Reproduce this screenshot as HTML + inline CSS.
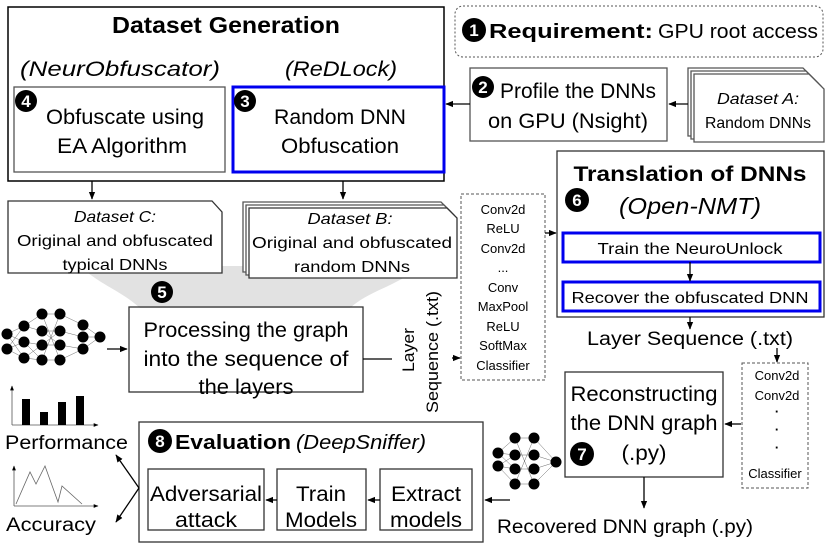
<!DOCTYPE html>
<html><head><meta charset="utf-8"><style>
html,body{margin:0;padding:0;background:#fff}
svg{display:block}
text{font-family:"Liberation Sans",sans-serif;fill:#000}
</style></head><body>
<svg width="831" height="548" viewBox="0 0 831 548" xmlns="http://www.w3.org/2000/svg">
<defs>
<marker id="a" viewBox="0 0 10 10" refX="9" refY="5" markerWidth="6" markerHeight="6" orient="auto"><path d="M0,1 L10,5 L0,9 z" fill="#000"/></marker>
</defs>
<g stroke="#000" fill="none" stroke-width="1.3">
<path d="M80,266 L420,266 C400,285 370,290 350,308 L140,308 C120,290 100,285 80,266 z" fill="#e2e2e2" stroke="none"/>
<rect x="8" y="7" width="436" height="174" stroke-width="1.5"/>
<rect x="14" y="87" width="211" height="85" stroke="#555"/>
<rect x="233" y="87" width="211" height="85" stroke="#0000ee" stroke-width="3"/>
<rect x="455" y="6" width="368" height="51" rx="8" stroke="#555" stroke-dasharray="2,2" stroke-width="1"/>
<rect x="470" y="68" width="197" height="73" stroke="#555"/>
<path d="M688,68 L803,68 L818,83 L818,136 L688,136 z" fill="#fff" stroke="#555"/>
<path d="M691,71 L806,71 L821,86 L821,139 L691,139 z" fill="#fff" stroke="#555"/>
<path d="M694,74 L809,74 L824,89 L824,142 L694,142 z" fill="#fff" stroke="#555"/>
<line x1="688" y1="104" x2="669" y2="104" marker-end="url(#a)"/>
<line x1="470" y1="104" x2="446" y2="104" marker-end="url(#a)"/>
<line x1="92" y1="181" x2="92" y2="199" marker-end="url(#a)"/>
<line x1="343" y1="181" x2="343" y2="199" marker-end="url(#a)"/>
<path d="M8,201 L212,201 L222,212 L222,273 L8,273 z" fill="#fff" stroke="#333"/>
<path d="M243,202 L441,202 L451,212 L451,272 L243,272 z" fill="#fff" stroke="#555"/>
<path d="M246,205 L444,205 L454,215 L454,275 L246,275 z" fill="#fff" stroke="#555"/>
<path d="M249,208 L447,208 L457,218 L457,278 L249,278 z" fill="#fff" stroke="#333"/>
<rect x="129" y="307" width="234" height="85" stroke="#333"/>
<line x1="107" y1="349" x2="127" y2="349" marker-end="url(#a)"/>
<line x1="363" y1="359" x2="392" y2="359"/>
<rect x="461" y="194" width="84" height="186" stroke="#555" stroke-dasharray="3,2" stroke-width="1"/>
<line x1="452" y1="358" x2="460" y2="358" marker-end="url(#a)"/>
<line x1="545" y1="233" x2="556" y2="233" marker-end="url(#a)"/>
<rect x="557" y="151" width="267" height="166" stroke="#333"/>
<rect x="563" y="233" width="257" height="29" stroke="#0000ee" stroke-width="3"/>
<rect x="563" y="282" width="257" height="29" stroke="#0000ee" stroke-width="3"/>
<line x1="690" y1="262" x2="690" y2="281" marker-end="url(#a)"/>
<line x1="690" y1="317" x2="690" y2="329" marker-end="url(#a)"/>
<line x1="777" y1="348" x2="777" y2="362" marker-end="url(#a)"/>
<rect x="742" y="363" width="66" height="125" stroke="#555" stroke-dasharray="3,2" stroke-width="1"/>
<rect x="565" y="372" width="158" height="105" stroke="#333"/>
<line x1="741" y1="424" x2="725" y2="424" marker-end="url(#a)"/>
<line x1="644" y1="477" x2="644" y2="508" marker-end="url(#a)"/>
<line x1="510" y1="500" x2="485" y2="500" marker-end="url(#a)"/>
<rect x="139" y="422" width="344" height="120" stroke="#333"/>
<rect x="148" y="469" width="116" height="61" stroke="#333"/>
<rect x="277" y="469" width="89" height="61" stroke="#333"/>
<rect x="380" y="469" width="92" height="61" stroke="#333"/>
<line x1="380" y1="500" x2="368" y2="500" marker-end="url(#a)"/>
<line x1="277" y1="500" x2="266" y2="500" marker-end="url(#a)"/>
<line x1="139" y1="488" x2="116" y2="455" marker-end="url(#a)"/>
<line x1="139" y1="488" x2="116" y2="522" marker-end="url(#a)"/>
<line x1="12" y1="425" x2="98" y2="425" stroke="#555" stroke-width="0.8" marker-end="url(#a)"/>
<line x1="12" y1="425" x2="12" y2="386" stroke="#555" stroke-width="0.8" marker-end="url(#a)"/>
<line x1="14" y1="506" x2="98" y2="506" stroke="#555" stroke-width="0.8" marker-end="url(#a)"/>
<line x1="14" y1="506" x2="14" y2="466" stroke="#555" stroke-width="0.8" marker-end="url(#a)"/>
<path d="M16,504 L30,472 L36,484 L45,466 L58,502 L62,486 L82,504" stroke="#666" stroke-width="0.8"/>
</g>
<g fill="#000">
<rect x="22" y="399" width="8" height="26"/><rect x="40" y="412" width="8" height="13"/><rect x="58" y="402" width="8" height="23"/><rect x="76" y="396" width="8" height="29"/>
</g>
<g stroke="#444" stroke-width="0.4">
<path d="M7,334 L24,326 M7,334 L24,342 M7,334 L24,358 M7,349 L24,326 M7,349 L24,342 M7,349 L24,358 M24,326 L42,314 M24,326 L42,331 M24,342 L42,345 M24,342 L42,360 M24,358 L42,345 M24,358 L42,360 M42,314 L60,314 M42,331 L60,331 M42,345 L60,345 M42,360 L60,360 M42,314 L60,360 M42,360 L60,314 M60,314 L83,325 M60,331 L83,337 M60,345 L83,349 M60,360 L83,349 M83,325 L100,337 M83,337 L100,337 M83,349 L100,337 M42,331 L60,345 M42,345 L60,331"/>
</g>
<g fill="#000">
<circle cx="7" cy="334" r="5.5"/><circle cx="7" cy="349" r="5.5"/>
<circle cx="24" cy="326" r="5.5"/><circle cx="24" cy="342" r="5.5"/><circle cx="24" cy="358" r="5.5"/>
<circle cx="42" cy="314" r="5.5"/><circle cx="42" cy="331" r="5.5"/><circle cx="42" cy="345" r="5.5"/><circle cx="42" cy="360" r="5.5"/>
<circle cx="60" cy="314" r="5.5"/><circle cx="60" cy="331" r="5.5"/><circle cx="60" cy="345" r="5.5"/><circle cx="60" cy="360" r="5.5"/>
<circle cx="83" cy="325" r="5.5"/><circle cx="83" cy="337" r="5.5"/><circle cx="83" cy="349" r="5.5"/>
<circle cx="100" cy="337" r="5.5"/>
</g>
<g stroke="#444" stroke-width="0.4">
<path d="M498,453 L515,438 M498,453 L515,455 M498,453 L515,469 M498,466 L515,455 M498,466 L515,469 M498,466 L515,484 M515,438 L534,438 M515,455 L534,455 M515,469 L534,469 M515,484 L534,484 M515,438 L534,484 M515,484 L534,438 M534,438 L556,462 M534,455 L556,462 M534,469 L556,462 M534,484 L556,462"/>
</g>
<g fill="#000">
<circle cx="498" cy="453" r="5.5"/><circle cx="498" cy="466" r="5.5"/>
<circle cx="515" cy="438" r="5.5"/><circle cx="515" cy="455" r="5.5"/><circle cx="515" cy="469" r="5.5"/><circle cx="515" cy="484" r="5.5"/>
<circle cx="534" cy="438" r="5.5"/><circle cx="534" cy="455" r="5.5"/><circle cx="534" cy="469" r="5.5"/><circle cx="534" cy="484" r="5.5"/>
<circle cx="556" cy="462" r="5.5"/>
</g>
<g fill="#000">
<circle cx="26" cy="101" r="11"/><circle cx="245" cy="101" r="11"/><circle cx="474" cy="30" r="12"/><circle cx="483" cy="87" r="11"/>
<circle cx="162" cy="292" r="11"/><circle cx="577" cy="200" r="12"/><circle cx="582" cy="454" r="12"/><circle cx="160" cy="441" r="12"/>
</g>
<g font-weight="bold" text-anchor="middle" font-size="17">
<text x="26" y="107" style="fill:#fff">4</text><text x="245" y="107" style="fill:#fff">3</text><text x="474" y="36" style="fill:#fff">1</text><text x="483" y="93" style="fill:#fff">2</text>
<text x="162" y="298" style="fill:#fff">5</text><text x="577" y="206" style="fill:#fff">6</text><text x="582" y="460" style="fill:#fff">7</text><text x="160" y="447" style="fill:#fff">8</text>
</g>
<g text-anchor="middle" font-size="21">
<text x="226" y="33" font-weight="bold" font-size="23" textLength="228" lengthAdjust="spacingAndGlyphs">Dataset Generation</text>
<text x="120" y="76" font-style="italic" textLength="200" lengthAdjust="spacingAndGlyphs">(NeurObfuscator)</text>
<text x="341" y="76" font-style="italic" textLength="112" lengthAdjust="spacingAndGlyphs">(ReDLock)</text>
<text x="125" y="124" textLength="158" lengthAdjust="spacingAndGlyphs">Obfuscate using</text>
<text x="122" y="153" textLength="130" lengthAdjust="spacingAndGlyphs">EA Algorithm</text>
<text x="340" y="124" textLength="132" lengthAdjust="spacingAndGlyphs">Random DNN</text>
<text x="340" y="153" textLength="118" lengthAdjust="spacingAndGlyphs">Obfuscation</text>
<text x="578" y="98" textLength="156" lengthAdjust="spacingAndGlyphs">Profile the DNNs</text>
<text x="568" y="128" textLength="160" lengthAdjust="spacingAndGlyphs">on GPU (Nsight)</text>
<text x="246" y="337" textLength="205" lengthAdjust="spacingAndGlyphs">Processing the graph</text>
<text x="246" y="366" textLength="205" lengthAdjust="spacingAndGlyphs">into the sequence of</text>
<text x="246" y="394" textLength="95" lengthAdjust="spacingAndGlyphs">the layers</text>
<text x="644" y="401" textLength="147" lengthAdjust="spacingAndGlyphs">Reconstructing</text>
<text x="644" y="430" textLength="147" lengthAdjust="spacingAndGlyphs">the DNN graph</text>
<text x="644" y="460" textLength="45" lengthAdjust="spacingAndGlyphs">(.py)</text>
<text x="206" y="501" textLength="112" lengthAdjust="spacingAndGlyphs">Adversarial</text>
<text x="206" y="527" textLength="62" lengthAdjust="spacingAndGlyphs">attack</text>
<text x="321" y="501" textLength="50" lengthAdjust="spacingAndGlyphs">Train</text>
<text x="321" y="527" textLength="72" lengthAdjust="spacingAndGlyphs">Models</text>
<text x="426" y="501" textLength="70" lengthAdjust="spacingAndGlyphs">Extract</text>
<text x="426" y="527" textLength="72" lengthAdjust="spacingAndGlyphs">models</text>
<text x="690" y="181" font-weight="bold" textLength="233" lengthAdjust="spacingAndGlyphs">Translation of DNNs</text>
<text x="690" y="214" font-style="italic" font-size="23" textLength="142" lengthAdjust="spacingAndGlyphs">(Open-NMT)</text>
</g>
<g font-size="20">
<text x="489" y="38" font-weight="bold" textLength="164" lengthAdjust="spacingAndGlyphs">Requirement:</text>
<text x="658" y="38" textLength="160" lengthAdjust="spacingAndGlyphs">GPU root access</text>
<text x="175" y="449" font-weight="bold" textLength="116" lengthAdjust="spacingAndGlyphs">Evaluation</text>
<text x="296" y="449" font-style="italic" textLength="130" lengthAdjust="spacingAndGlyphs">(DeepSniffer)</text>
<text x="5" y="449" font-size="19" textLength="123" lengthAdjust="spacingAndGlyphs">Performance</text>
<text x="6" y="531" font-size="19" textLength="90" lengthAdjust="spacingAndGlyphs">Accuracy</text>
</g>
<g text-anchor="middle" font-size="16">
<text x="758" y="104" font-style="italic" textLength="82" lengthAdjust="spacingAndGlyphs">Dataset A:</text>
<text x="758" y="128" textLength="106" lengthAdjust="spacingAndGlyphs">Random DNNs</text>
<text x="115" y="222" font-style="italic" textLength="82" lengthAdjust="spacingAndGlyphs">Dataset C:</text>
<text x="115" y="246" textLength="196" lengthAdjust="spacingAndGlyphs">Original and obfuscated</text>
<text x="115" y="270" textLength="105" lengthAdjust="spacingAndGlyphs">typical DNNs</text>
<text x="350" y="224" font-style="italic" textLength="85" lengthAdjust="spacingAndGlyphs">Dataset B:</text>
<text x="352" y="248" textLength="200" lengthAdjust="spacingAndGlyphs">Original and obfuscated</text>
<text x="352" y="272" textLength="116" lengthAdjust="spacingAndGlyphs">random DNNs</text>
<text x="690" y="254" textLength="185" lengthAdjust="spacingAndGlyphs">Train the NeuroUnlock</text>
<text x="690" y="303" textLength="237" lengthAdjust="spacingAndGlyphs">Recover the obfuscated DNN</text>
<text x="690" y="345" font-size="19" textLength="206" lengthAdjust="spacingAndGlyphs">Layer Sequence (.txt)</text>
<text x="625" y="533" font-size="19" textLength="256" lengthAdjust="spacingAndGlyphs">Recovered DNN graph (.py)</text>
</g>
<text transform="translate(414,350) rotate(-90)" text-anchor="middle" font-size="17" textLength="44" lengthAdjust="spacingAndGlyphs">Layer</text>
<text transform="translate(438,352) rotate(-90)" text-anchor="middle" font-size="17" textLength="122" lengthAdjust="spacingAndGlyphs">Sequence (.txt)</text>
<g text-anchor="middle" font-size="13">
<text x="503" y="214">Conv2d</text><text x="503" y="233">ReLU</text><text x="503" y="253">Conv2d</text><text x="503" y="272">...</text>
<text x="503" y="292">Conv</text><text x="503" y="311">MaxPool</text><text x="503" y="331">ReLU</text><text x="503" y="350">SoftMax</text><text x="503" y="370">Classifier</text>
<text x="777" y="380">Conv2d</text><text x="777" y="400">Conv2d</text>
<text x="777" y="416" font-weight="bold">·</text><text x="777" y="434" font-weight="bold">·</text><text x="777" y="452" font-weight="bold">·</text>
<text x="775" y="478">Classifier</text>
</g>
</svg>
</body></html>
